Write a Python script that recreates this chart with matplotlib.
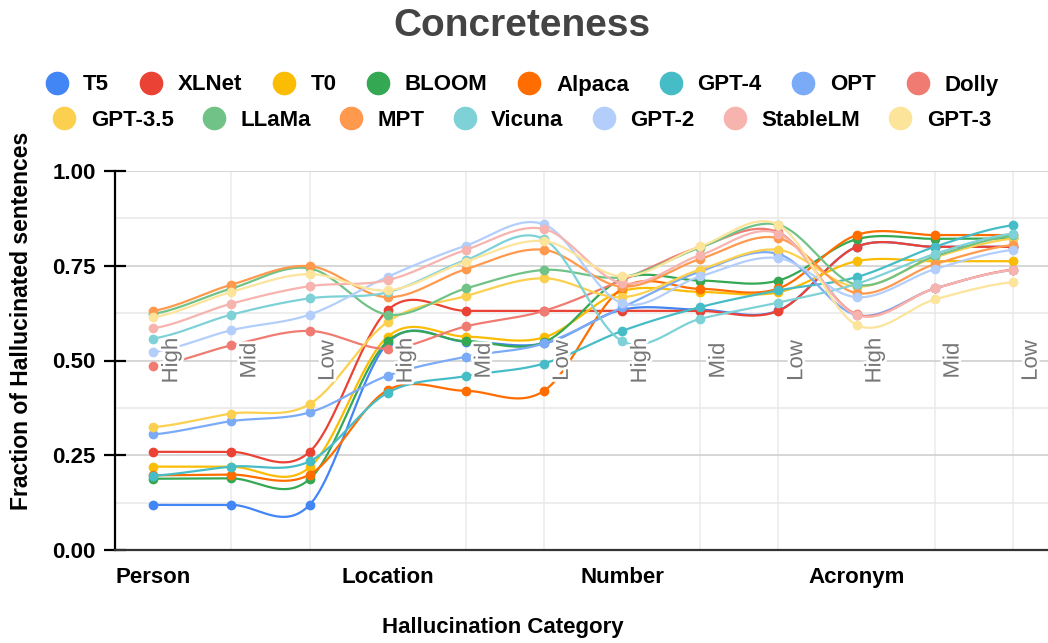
import numpy as np
import matplotlib
matplotlib.use("Agg")
import matplotlib.pyplot as plt
import matplotlib.patheffects as pe
from matplotlib.lines import Line2D

plt.rcParams["font.family"] = ["Liberation Sans", "DejaVu Sans"]

categories = ["Person", "Location", "Number", "Acronym"]
levels = ["High", "Mid", "Low"]

models = ["T5", "XLNet", "T0", "BLOOM", "Alpaca", "GPT-4", "OPT", "Dolly",
          "GPT-3.5", "LLaMa", "MPT", "Vicuna", "GPT-2", "StableLM", "GPT-3"]
colors = ["#4285F4", "#EA4335", "#FBBC04", "#34A853", "#FF6D01", "#46BDC6",
          "#7BAAF7", "#F07B72", "#FCD04F", "#71C287", "#FF994D", "#7ED1D7",
          "#B3CEFB", "#F7B4AE", "#FDE49B"]

# values per model: Person H/M/L, Location H/M/L, Number H/M/L, Acronym H/M/L
t5 = [0.119, 0.119, 0.119, 0.546, 0.550, 0.545, 0.634, 0.634, 0.632, 0.800, 0.800, 0.800]
xlnet = [0.259, 0.259, 0.259, 0.633, 0.631, 0.631, 0.631, 0.631, 0.631, 0.800, 0.800, 0.800]
t0 = [0.220, 0.220, 0.218, 0.563, 0.563, 0.561, 0.683, 0.681, 0.680, 0.762, 0.762, 0.762]
bloom = [0.188, 0.189, 0.187, 0.551, 0.551, 0.548, 0.715, 0.711, 0.711, 0.820, 0.821, 0.822]
alpaca = [0.197, 0.199, 0.199, 0.422, 0.420, 0.420, 0.690, 0.689, 0.690, 0.831, 0.831, 0.831]
gpt4 = [0.196, 0.220, 0.234, 0.415, 0.459, 0.492, 0.578, 0.641, 0.685, 0.720, 0.800, 0.857]
opt = [0.305, 0.340, 0.363, 0.460, 0.510, 0.545, 0.640, 0.735, 0.781, 0.620, 0.690, 0.739]
dolly = [0.485, 0.540, 0.578, 0.531, 0.590, 0.631, 0.712, 0.800, 0.838, 0.622, 0.690, 0.740]
gpt35 = [0.324, 0.360, 0.385, 0.602, 0.670, 0.717, 0.667, 0.740, 0.792, 0.695, 0.772, 0.822]
llama = [0.623, 0.690, 0.743, 0.621, 0.690, 0.739, 0.720, 0.798, 0.858, 0.700, 0.775, 0.830]
mpt = [0.631, 0.700, 0.749, 0.667, 0.741, 0.792, 0.695, 0.768, 0.823, 0.678, 0.754, 0.805]
vicuna = [0.558, 0.621, 0.664, 0.680, 0.765, 0.820, 0.551, 0.610, 0.653, 0.702, 0.781, 0.835]
gpt2 = [0.522, 0.580, 0.621, 0.721, 0.803, 0.859, 0.651, 0.722, 0.770, 0.667, 0.741, 0.792]
stablelm = [0.585, 0.650, 0.696, 0.712, 0.792, 0.847, 0.704, 0.778, 0.835, 0.620, 0.690, 0.739]
gpt3 = [0.614, 0.681, 0.728, 0.685, 0.761, 0.815, 0.722, 0.801, 0.858, 0.594, 0.661, 0.707]

series = [t5, xlnet, t0, bloom, alpaca, gpt4, opt, dolly,
          gpt35, llama, mpt, vicuna, gpt2, stablelm, gpt3]


def smooth(y, n=30):
    # Catmull-Rom spline through the points, like the "function" curve type
    y = np.asarray(y, dtype=float)
    p = np.concatenate([[y[0]], y, [y[-1]]])
    xs, ys = [], []
    t = np.linspace(0, 1, n, endpoint=False)
    h00 = 2 * t**3 - 3 * t**2 + 1
    h10 = t**3 - 2 * t**2 + t
    h01 = -2 * t**3 + 3 * t**2
    h11 = t**3 - t**2
    for i in range(len(y) - 1):
        p0, p1, p2, p3 = p[i], p[i + 1], p[i + 2], p[i + 3]
        m1, m2 = (p2 - p0) / 2, (p3 - p1) / 2
        xs.append(i + t)
        ys.append(h00 * p1 + h10 * m1 + h01 * p2 + h11 * m2)
    xs.append([len(y) - 1])
    ys.append([y[-1]])
    return np.concatenate(xs), np.concatenate(ys)


fig = plt.figure(figsize=(10.48, 6.43), dpi=100)
ax = fig.add_axes([115 / 1048, 93 / 643, 933 / 1048, 379 / 643])
x = np.arange(12)

for vals, col in zip(series, colors):
    sx, sy = smooth(vals)
    ax.plot(sx, sy, color=col, lw=1.6, solid_capstyle="round", zorder=3)
    ax.plot(x, vals, "o", color=col, ms=6, zorder=3)

# rotated level labels inside the plot
for i in range(12):
    ax.text(i + 0.235, 0.50, levels[i % 3], rotation=90, ha="center", va="center",
            fontsize=16, color="#777777", zorder=4,
            path_effects=[pe.withStroke(linewidth=4, foreground="white")])

ax.set_xlim(-0.49, 11.45)
ax.set_ylim(0, 1)
ax.set_xticks([0, 3, 6, 9])
ax.set_xticklabels(categories, fontsize=16, fontweight="bold")
ax.set_xticks(x, minor=True)
ax.tick_params(axis="x", which="both", length=0, pad=12)
ax.set_yticks([0, 0.25, 0.5, 0.75, 1.0])
ax.set_yticklabels(["0.00", "0.25", "0.50", "0.75", "1.00"], fontsize=16, fontweight="bold")
ax.set_yticks(np.arange(0.125, 1, 0.25), minor=True)
ax.tick_params(axis="y", which="major", direction="inout", length=16, width=1.6, pad=6)
ax.tick_params(axis="y", which="minor", length=0)

ax.grid(axis="y", which="major", color="#cccccc", lw=1.1, zorder=0)
ax.grid(axis="y", which="minor", color="#e8e8e8", lw=1.1, zorder=0)
ax.grid(axis="x", which="minor", color="#ebebeb", lw=1.1, zorder=0)
ax.set_axisbelow(True)
for sp in ("top", "right"):
    ax.spines[sp].set_visible(False)
ax.spines["left"].set_linewidth(1.6)
ax.spines["left"].set_color("black")
ax.spines["bottom"].set_linewidth(1.6)
ax.spines["bottom"].set_color("#333333")

fig.text(522 / 1048, 1 - 26 / 643, "Concreteness", ha="center", va="center",
         fontsize=28, fontweight="bold", color="#444444")
fig.text(22 / 1048, 1 - 321 / 643, "Fraction of Hallucinated sentences", rotation=90,
         ha="center", va="center", fontsize=16.5, fontweight="bold")
fig.text(503 / 1048, 1 - 628 / 643, "Hallucination Category", ha="center", va="center",
         fontsize=16, fontweight="bold")

handles = [Line2D([], [], marker="o", ls="none", ms=16, color=c) for c in colors]
for (a, b), ypos, cs in (((0, 8), 85, 1.38), ((8, 15), 120, 1.3)):
    fig.legend(handles[a:b], models[a:b], loc="center", ncol=b - a,
               bbox_to_anchor=(522 / 1048, 1 - ypos / 643), frameon=False,
               prop={"size": 16, "weight": "bold"}, handlelength=1.0,
               handletextpad=0.7, columnspacing=cs, borderaxespad=0,
               borderpad=0)

fig.savefig("out.png", dpi=100, facecolor="white")
